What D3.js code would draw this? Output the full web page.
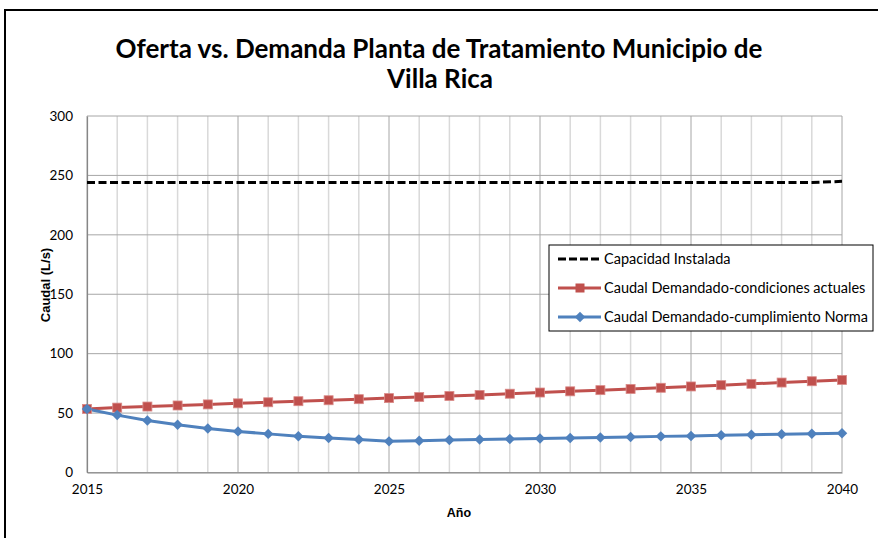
<!DOCTYPE html>
<html>
<head>
<meta charset="utf-8">
<script src="https://cdn.jsdelivr.net/npm/d3@7"></script>
<style>
  body { margin: 0; background: #fff; }
  text { font-family: Lato, "Open Sans", sans-serif; fill: #000; }
</style>
</head>
<body>
<div id="chart_placeholder"></div>
<script>
// data
var years = [2015, 2016, 2017, 2018, 2019, 2020, 2021, 2022, 2023, 2024, 2025, 2026, 2027,
             2028, 2029, 2030, 2031, 2032, 2033, 2034, 2035, 2036, 2037, 2038, 2039, 2040];
var capacidad = [244, 244, 244, 244, 244, 244, 244, 244, 244, 244, 244, 244, 244,
                 244, 244, 244, 244, 244, 244, 244, 244, 244, 244, 244, 244, 245];
var condicionesActuales = [53.5, 54.6, 55.5, 56.4, 57.3, 58.2, 59.1, 60.0, 60.8, 61.7, 62.6, 63.5, 64.4,
                           65.3, 66.3, 67.3, 68.3, 69.3, 70.3, 71.3, 72.4, 73.5, 74.6, 75.7, 76.8, 77.9];
var cumplimientoNorma = [53.5, 48.3, 43.7, 40.1, 37.0, 34.6, 32.5, 30.6, 29.0, 27.8, 26.2, 26.8, 27.4,
                         27.8, 28.2, 28.6, 29.0, 29.4, 29.9, 30.4, 30.8, 31.3, 31.7, 32.2, 32.6, 33.1];
var yTicks = [0, 50, 100, 150, 200, 250, 300];
var xTicks = [2015, 2020, 2025, 2030, 2035, 2040];
var seriesNames = ["Capacidad Instalada", "Caudal Demandado-condiciones actuales", "Caudal Demandado-cumplimiento Norma"];

var width = 878;
var height = 538;
var plot = { left: 87, right: 842, top: 116, bottom: 472.5 };

var svg = d3.select("#chart_placeholder")
  .append("svg")
  .attr("width", width)
  .attr("height", height);

// outer chart border
svg.append("rect")
  .attr("x", 5).attr("y", 10)
  .attr("width", 900).attr("height", 560)
  .attr("fill", "#fff")
  .attr("stroke", "#000")
  .attr("stroke-width", 2);

var x = d3.scaleLinear().domain([2015, 2040]).range([plot.left, plot.right]);
var y = d3.scaleLinear().domain([0, 300]).range([plot.bottom, plot.top]);

// title
var title = svg.append("text")
  .attr("text-anchor", "middle")
  .style("font-weight", "bold")
  .style("font-size", "26px");
title.append("tspan").attr("x", 439).attr("y", 58).text("Oferta vs. Demanda Planta de Tratamiento Municipio de");
title.append("tspan").attr("x", 440).attr("y", 88).text("Villa Rica");

// gridlines
svg.append("g").selectAll("line")
  .data(years.filter(function(d) { return d % 5 != 0; }))
  .enter().append("line")
  .attr("x1", function(d) { return x(d); }).attr("x2", function(d) { return x(d); })
  .attr("y1", plot.top).attr("y2", plot.bottom)
  .attr("stroke", "#d9d9d9").attr("stroke-width", 1.5);

svg.append("g").selectAll("line")
  .data(xTicks)
  .enter().append("line")
  .attr("x1", function(d) { return x(d); }).attr("x2", function(d) { return x(d); })
  .attr("y1", plot.top).attr("y2", plot.bottom)
  .attr("stroke", "#a6a6a6").attr("stroke-width", 1);

svg.append("g").selectAll("line")
  .data(yTicks)
  .enter().append("line")
  .attr("x1", plot.left).attr("x2", plot.right)
  .attr("y1", function(d) { return y(d); }).attr("y2", function(d) { return y(d); })
  .attr("stroke", "#a6a6a6").attr("stroke-width", 1);

// axes
var yAxis = svg.append("g")
  .attr("transform", "translate(" + plot.left + ",0)")
  .call(d3.axisLeft(y).tickValues(yTicks).tickSize(0).tickPadding(14));
var xAxis = svg.append("g")
  .attr("transform", "translate(0," + plot.bottom + ")")
  .call(d3.axisBottom(x).tickValues(xTicks).tickFormat(d3.format("d")).tickSize(0).tickPadding(12));

[yAxis, xAxis].forEach(function(a) {
  a.select(".domain").attr("stroke", "#868686").attr("stroke-width", 1.2);
  a.selectAll("text").style("font-size", "13.5px").style("font-family", "Lato, sans-serif").attr("fill", "#000");
});

svg.append("text")
  .attr("transform", "translate(50,285) rotate(-90)")
  .attr("text-anchor", "middle")
  .style("font-family", "'Liberation Sans', Arial, sans-serif")
  .style("font-weight", "bold")
  .style("font-size", "13px")
  .text("Caudal (L/s)");

svg.append("text")
  .attr("x", 459)
  .attr("y", 517)
  .attr("text-anchor", "middle")
  .style("font-family", "'Liberation Sans', Arial, sans-serif")
  .style("font-weight", "bold")
  .style("font-size", "12.5px")
  .text("Año");

// lines
function lineFor(values) {
  return d3.line()
    .x(function(d, i) { return x(years[i]); })
    .y(function(d) { return y(d); })(values);
}

svg.append("path")
  .attr("d", lineFor(capacidad))
  .attr("fill", "none")
  .attr("stroke", "#000")
  .attr("stroke-width", 3)
  .attr("stroke-dasharray", "8,3.5");

svg.append("path")
  .attr("d", lineFor(condicionesActuales))
  .attr("fill", "none")
  .attr("stroke", "#c0504d")
  .attr("stroke-width", 3);

svg.append("path")
  .attr("d", lineFor(cumplimientoNorma))
  .attr("fill", "none")
  .attr("stroke", "#4f81bd")
  .attr("stroke-width", 3);

svg.append("g").selectAll("rect")
  .data(condicionesActuales)
  .enter().append("rect")
  .attr("x", function(d, i) { return x(years[i]) - 4.5; })
  .attr("y", function(d) { return y(d) - 4.5; })
  .attr("width", 9).attr("height", 9)
  .attr("fill", "#c0504d")
  .attr("stroke", "#d98a88").attr("stroke-width", 0.8);

var diamond = d3.symbol().type(d3.symbolDiamond2).size(70);
svg.append("g").selectAll("path")
  .data(cumplimientoNorma)
  .enter().append("path")
  .attr("d", diamond)
  .attr("transform", function(d, i) { return "translate(" + x(years[i]) + "," + y(d) + ")"; })
  .attr("fill", "#4f81bd");

// legend
var legend = svg.append("g").attr("transform", "translate(549,245)");
legend.append("rect")
  .attr("width", 324).attr("height", 86)
  .attr("fill", "#fff")
  .attr("stroke", "#000").attr("stroke-width", 1);

var rows = legend.selectAll(".legend-row")
  .data(seriesNames)
  .enter().append("g")
  .attr("class", "legend-row")
  .attr("transform", function(d, i) { return "translate(0," + (14 + i * 29) + ")"; });

rows.append("line")
  .attr("x1", 9).attr("x2", 52)
  .attr("stroke", function(d, i) { return ["#000", "#c0504d", "#4f81bd"][i]; })
  .attr("stroke-width", 3)
  .attr("stroke-dasharray", function(d, i) { return i == 0 ? "8,3" : null; });

rows.filter(function(d, i) { return i == 1; })
  .append("rect")
  .attr("x", 26.5).attr("y", -4.5).attr("width", 9).attr("height", 9)
  .attr("fill", "#c0504d");

rows.filter(function(d, i) { return i == 2; })
  .append("path")
  .attr("d", diamond)
  .attr("transform", "translate(31,0)")
  .attr("fill", "#4f81bd");

rows.append("text")
  .attr("x", 55)
  .attr("dy", "0.35em")
  .style("font-size", "14.5px")
  .text(function(d) { return d; });
</script>
</body>
</html>
